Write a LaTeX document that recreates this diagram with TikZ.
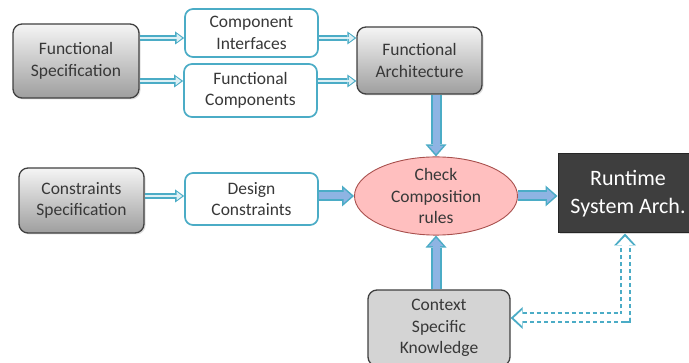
\documentclass[tikz,border=0pt]{standalone}
\usepackage{fontspec}
\setmainfont{Carlito}
\usetikzlibrary{arrows.meta,shapes.geometric,shadows}
\definecolor{edgeblue}{HTML}{4BACC6}
\definecolor{flowfill}{HTML}{8EB4E3}
\definecolor{thinfill}{HTML}{DDF0F5}
\definecolor{checkfill}{HTML}{FFBFBF}
\definecolor{checkedge}{HTML}{A8504D}
\definecolor{textgray}{HTML}{383838}
\definecolor{runfill}{HTML}{3E3E3E}
\tikzstyle{spec} = [rectangle,
                   rounded corners=9pt,
                   draw=black!75,
                   line width=1.3pt,
                   top color=black!4,
                   bottom color=black!38,
                   align=center,
                   text=textgray,
                   inner sep=0pt,
                   drop shadow={opacity=0.25,shadow xshift=1.5pt,shadow yshift=-1.5pt},
                   font=\fontsize{17.5}{21.5}\selectfont]
\tikzstyle{knowledge} = [rectangle,
                   rounded corners=9pt,
                   draw=black!75,
                   line width=1.3pt,
                   fill=black!17,
                   align=center,
                   text=textgray,
                   inner sep=0pt,
                   font=\fontsize{17.5}{21.5}\selectfont]
\tikzstyle{part} = [rectangle,
                   rounded corners=8pt,
                   draw=edgeblue,
                   line width=1.7pt,
                   fill=white,
                   align=center,
                   text=textgray,
                   inner sep=0pt,
                   font=\fontsize{17.5}{21.5}\selectfont]
\tikzstyle{check} = [ellipse,
                   draw=checkedge,
                   line width=0.9pt,
                   fill=checkfill,
                   align=center,
                   text=textgray,
                   inner sep=0pt,
                   font=\fontsize{17.5}{21.5}\selectfont]
\tikzstyle{runtime} = [rectangle,
                   draw=black!85,
                   line width=1pt,
                   fill=runfill,
                   text=white,
                   align=center,
                   inner sep=0pt,
                   drop shadow={opacity=0.3,shadow xshift=1.5pt,shadow yshift=-1.5pt},
                   font=\fontsize{22}{27.5}\selectfont]
\tikzstyle{flow} = [line width=5.5pt,
                   draw=edgeblue,
                   -{Triangle[length=9pt,width=13pt,line width=0pt]},
                   postaction={draw=thinfill, line width=2.6pt, shorten >=2pt,
                     -{Triangle[length=5.5pt,width=8.5pt,line width=0pt]}}]
\tikzstyle{bigflow} = [line width=11pt,
                   draw=edgeblue,
                   -{Triangle[length=12pt,width=21pt,line width=0pt]},
                   postaction={draw=flowfill, line width=7pt, shorten >=2.5pt,
                     -{Triangle[length=8pt,width=14.5pt,line width=0pt]}}]
\tikzstyle{dashflow} = [line width=11pt,
                   draw=edgeblue,
                   dash pattern=on 4.5pt off 2.5pt,
                   {Triangle[length=12pt,width=22pt,line width=0pt]}-{Triangle[length=12pt,width=22pt,line width=0pt]},
                   postaction={draw=white, solid, line width=7pt, shorten >=3pt, shorten <=3pt,
                     {Triangle[length=8.5pt,width=16pt,line width=0pt]}-{Triangle[length=8.5pt,width=16pt,line width=0pt]}}]

\begin{document}
\begin{tikzpicture}[x=1pt,y=-1pt]
    \path[use as bounding box,clip] (0,0) rectangle (689,363);
    % boxes
    \node (fs) at (76,61) [spec, minimum width=126pt, minimum height=74pt] {Functional\\Specification};
    \node (ci) at (251.5,33) [part, minimum width=133pt, minimum height=48pt] {Component\\Interfaces};
    \node (fc) at (250.5,90.5) [part, minimum width=133pt, minimum height=53pt] {Functional\\Components};
    \node (fa) at (419.5,60.5) [spec, minimum width=125pt, minimum height=67pt] {Functional\\Architecture};
    \node (cs) at (81.5,200.5) [spec, minimum width=125pt, minimum height=65pt] {Constraints\\Specification};
    \node (dc) at (251.5,199) [part, minimum width=133pt, minimum height=52pt] {Design\\Constraints};
    \node (chk) at (436,196) [check, minimum width=163pt, minimum height=77pt] {Check\\Composition\\rules};
    \node (rsa) at (628,193.5) [runtime, minimum width=140pt, minimum height=79pt] {Runtime\\System Arch.};
    \node (csk) at (439,328) [knowledge, minimum width=142pt, minimum height=76pt] {Context\\Specific\\Knowledge};
    \coordinate (upper) at (0,38);
    \coordinate (lower) at (0,81);
    \coordinate (turn) at (625,318);
    % connectors
    \draw[flow] (fs.east |- upper) -- (ci.west |- upper);
    \draw[flow] (fs.east |- lower) -- (fc.west |- lower);
    \draw[flow] (ci.east |- upper) -- (fa.west |- upper);
    \draw[flow] (fc.east |- lower) -- (fa.west |- lower);
    \draw[flow] (cs.east |- chk.west) -- (dc.west |- chk.west);
    \draw[bigflow] (dc.east |- chk.west) -- (chk.west);
    \draw[bigflow] (fa.south -| chk.north) -- (chk.north);
    \draw[bigflow] (csk.north -| chk.south) -- (chk.south);
    \draw[bigflow] (chk.east) -- (rsa.west |- chk.east);
    \draw[dashflow] (csk.east |- turn) -- (turn) -- (turn |- rsa.south);
\end{tikzpicture}
\end{document}
